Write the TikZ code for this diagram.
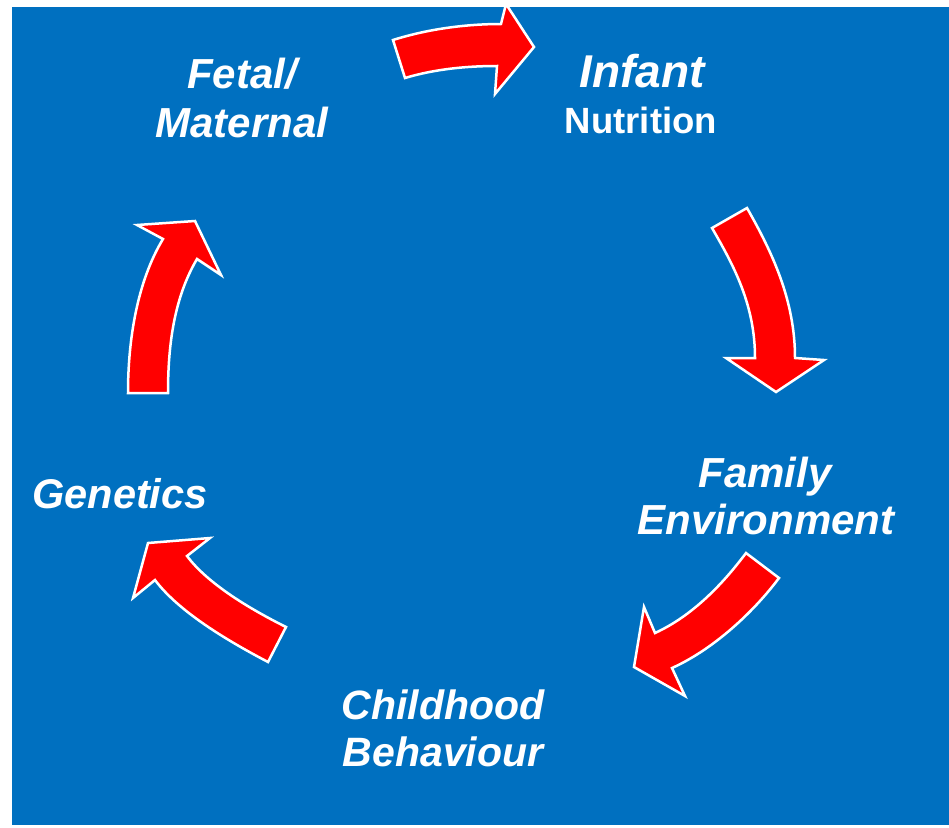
\documentclass[tikz,border=0pt]{standalone}
\usepackage{fontspec}
\setmainfont{Liberation Sans}
\definecolor{bgblue}{RGB}{0,112,192}
\definecolor{arrowred}{RGB}{255,0,0}
\tikzset{
  lbl/.style={text=white, inner sep=0pt, anchor=base,
    font=\fontsize{42}{48}\selectfont\bfseries\itshape},
  blockarrow/.style={fill=arrowred, draw=white, line width=2.5pt, line join=miter}
}
\begin{document}
\begin{tikzpicture}[x=1pt,y=-1pt]
\useasboundingbox (0,0) rectangle (949,827);
\fill[bgblue] (12,7) rectangle (949,825);

% labels
\node[lbl] (fetal1) at (242,88) {Fetal/};
\node[lbl] (fetal2) at (242,137) {Maternal};
\node[lbl, font=\fontsize{46}{52}\selectfont\bfseries\itshape] (infant1) at (642,87) {Infant};
\node[lbl, font=\fontsize{36.5}{44}\selectfont\bfseries] (infant2) at (641,133) {Nutrition};
\node[lbl] (family1) at (765,487) {Family};
\node[lbl] (family2) at (766,534) {Environment};
\node[lbl, font=\fontsize{41.5}{48}\selectfont\bfseries\itshape] (genetics) at (120,508) {Genetics};
\node[lbl, font=\fontsize{41}{48}\selectfont\bfseries\itshape] (child1) at (443,719) {Childhood};
\node[lbl, font=\fontsize{41}{48}\selectfont\bfseries\itshape] (child2) at (443,766) {Behaviour};

% arrow: Fetal -> Infant
\draw[blockarrow] (393,40) .. controls (431,28) and (470,24) .. (501,24)
  -- (506,4) -- (534,47) -- (495,94) -- (497,66)
  .. controls (467,66) and (435,69) .. (405,78) -- cycle;
% arrow: Infant -> Family
\draw[blockarrow] (747,208) .. controls (772,252) and (795,300) .. (795,358)
  -- (824,360) -- (776,392) -- (726,358) -- (755,358)
  .. controls (755,305) and (734,266) .. (712,228) -- cycle;
% arrow: Family -> Childhood
\draw[blockarrow] (779,578) .. controls (752,614) and (712,650) .. (672,668)
  -- (685,696) -- (634,667) -- (644,607) -- (655,633)
  .. controls (692,616) and (722,585) .. (746,553) -- cycle;
% arrow: Childhood -> Genetics
\draw[blockarrow] (286,627) .. controls (250,609) and (208,584) .. (187,556)
  -- (210,538) -- (148,543) -- (133,598) -- (155,580)
  .. controls (179,612) and (228,641) .. (268,662) -- cycle;
% arrow: Genetics -> Fetal
\draw[blockarrow] (128,393) .. controls (128,340) and (137,282) .. (163,239)
  -- (137,225) -- (195,221) -- (221,275) -- (197,259)
  .. controls (174,298) and (168,345) .. (168,393) -- cycle;
\end{tikzpicture}
\end{document}
